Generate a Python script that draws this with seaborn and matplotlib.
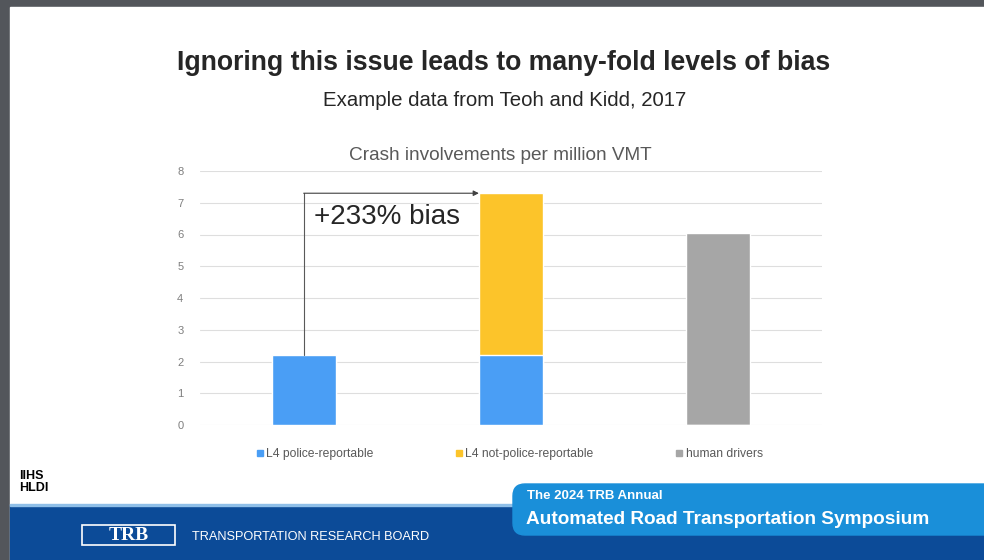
import numpy as np
import pandas as pd
import matplotlib.pyplot as plt
from matplotlib.patches import Rectangle, FancyBboxPatch
from matplotlib.lines import Line2D
import seaborn as sns

# data
categories = ["L4 police-reportable", "L4 not-police-reportable", "human drivers"]
police_reportable = [2.2, 2.2, 0.0]
not_police_reportable = [0.0, 5.1, 0.0]
human_drivers = [0.0, 0.0, 6.06]
y_ticks = [0, 1, 2, 3, 4, 5, 6, 7, 8]
bias_label = "+233% bias"

blue = "#4a9ef5"
yellow = "#fcc42a"
gray = "#a6a6a6"

sns.set_style("white")
plt.rcParams["font.family"] = ["Liberation Sans", "DejaVu Sans"]

df = pd.DataFrame({
    "cat": categories,
    "police": police_reportable,
    "not_police": not_police_reportable,
    "human": human_drivers,
})
df["total"] = df["police"] + df["not_police"] + df["human"]

fig = plt.figure(figsize=(9.84, 5.6), dpi=100)
fig.patch.set_facecolor("#53565b")

# slide background, pixel coords
bg = fig.add_axes([0, 0, 1, 1])
bg.set_xlim(0, 984)
bg.set_ylim(560, 0)
bg.axis("off")
bg.add_patch(Rectangle((10, 7), 974, 553, color="white", zorder=0))
bg.add_patch(Rectangle((10, 505), 974, 55, color="#0c4b98", zorder=1))
bg.add_patch(Rectangle((10, 504), 974, 2, color="#8fbfe8", zorder=2))
bg.add_patch(FancyBboxPatch((513, 484), 490, 51, boxstyle="round,pad=0,rounding_size=12",
                            color="#1a8fd9", zorder=3))
bg.text(527, 496, "The 2024 TRB Annual", color="white", fontsize=9.5, fontweight="bold",
        va="center", zorder=4)
bg.text(526, 520, "Automated Road Transportation Symposium", color="white", fontsize=13.7,
        fontweight="bold", va="center", zorder=4)
bg.add_patch(Rectangle((82, 525), 93, 20, fill=False, edgecolor="white", lw=1.2, zorder=4))
bg.text(128.5, 535.5, "TRB", color="white", fontsize=14, fontweight="bold",
        family=["Liberation Serif", "DejaVu Serif"], ha="center", va="center", zorder=4)
bg.text(192, 537, "TRANSPORTATION RESEARCH BOARD", color="white", fontsize=9.2,
        va="center", zorder=4)
bg.text(19, 476, "IIHS", color="black", fontsize=9, fontweight="bold", va="center", zorder=4)
bg.text(19, 488, "HLDI", color="black", fontsize=9, fontweight="bold", va="center", zorder=4)

bg.text(504, 63, "Ignoring this issue leads to many-fold levels of bias", fontsize=19.2,
        fontweight="bold", color="#262626", ha="center", va="center")
bg.text(505, 100, "Example data from Teoh and Kidd, 2017", fontsize=14.7,
        color="#262626", ha="center", va="center")
bg.text(500, 155, "Crash involvements per million VMT", fontsize=13.7,
        color="#595959", ha="center", va="center")

# chart
ax = fig.add_axes([200 / 984, 1 - 425 / 560, 622 / 984, 254 / 560])
ax.set_facecolor("none")
bar_w = 0.31
top_colors = [blue, yellow, gray]
sns.barplot(data=df, x="cat", y="total", hue="cat", palette=top_colors, legend=False,
            width=bar_w, saturation=1, ax=ax, zorder=3)
sns.barplot(data=df, x="cat", y="police", color=blue, width=bar_w, saturation=1,
            ax=ax, zorder=4)

ax.set_ylim(0, 8)
ax.set_xlim(-0.5, 2.5)
ax.set_yticks(y_ticks)
ax.set_yticklabels([str(t) for t in y_ticks])
ax.set_xticks([])
ax.set_xlabel("")
ax.set_ylabel("")
ax.tick_params(axis="y", length=0, labelsize=8, labelcolor="#7f7f7f", pad=12)
ax.grid(axis="y", color="#dedede", lw=0.8, zorder=0)
for s in ax.spines.values():
    s.set_visible(False)

# bias annotation
base = df["police"][0]
target = df["total"][1]
ax.plot([0, 0], [base, target], color="#595959", lw=0.8, zorder=5)
ax.annotate("", xy=(1 - bar_w / 2, target), xytext=(0, target),
            arrowprops=dict(arrowstyle="-|>", color="#404040", lw=0.8,
                            mutation_scale=8, shrinkA=0, shrinkB=0), zorder=5)
ax.text(0.05, 6.55, bias_label, fontsize=20, color="#262626", va="center", zorder=6)

handles = [Line2D([0], [0], marker="s", ls="", color=c, markersize=4) for c in top_colors]
fig.legend(handles, categories, loc="center", bbox_to_anchor=(509 / 984, 1 - 454 / 560),
           ncol=3, frameon=False, fontsize=8.7, labelcolor="#595959", columnspacing=6.7,
           handletextpad=0.1, handlelength=0.8)

fig.savefig("out.png", dpi=100, facecolor=fig.get_facecolor())
